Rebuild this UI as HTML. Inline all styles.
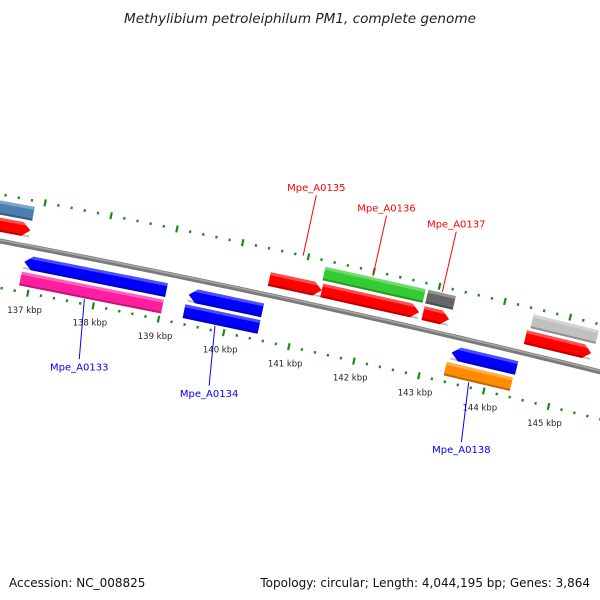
<!DOCTYPE html>
<html><head><meta charset="utf-8"><style>
body{margin:0;background:#fff}
svg{display:block;font-family:"DejaVu Sans","Liberation Sans",sans-serif}
</style></head><body>
<svg id="map" width="600" height="600" viewBox="0 0 600 600" xmlns="http://www.w3.org/2000/svg">
<rect width="600" height="600" fill="#fff"/>
<text x="300" y="23" text-anchor="middle" font-size="13.6" font-style="italic" fill="#222">Methylibium petroleiphilum PM1, complete genome</text>
<g id="ticks"></g>
<g id="backbone"></g>
<g id="features"></g>
<g id="labels"></g>
<text x="9" y="587" font-size="12" fill="#111">Accession: NC_008825</text>
<text x="590" y="587" text-anchor="end" font-size="12" fill="#111">Topology: circular; Length: 4,044,195 bp; Genes: 3,864</text>
</svg>
<script>
// data (kbp)
const featStart = [136.0, 136.2, 136.86, 136.85, 139.37, 139.35, 140.50, 141.28, 141.30, 142.85, 142.85, 143.40, 143.36, 144.46, 144.42];
const featEnd   = [136.86, 136.86, 139.03, 139.02, 140.50, 140.50, 141.30, 142.81, 142.79, 143.27, 143.25, 144.40, 144.38, 145.46, 145.43];
const featRow   = [2, 1, -1, -2, -1, -2, 1, 2, 1, 2, 1, -1, -2, 2, 1];
const featColor = ["#4a7fb0","#ff0000","#0000ff","#ff1ea0","#0000ff","#0000ff","#ff0000","#33cc33","#ff0000","#666666","#ff0000","#0000ff","#ff8c00","#c0c0c0","#ff0000"];
const featArrow = [0,1,1,0,1,0,1,0,1,0,1,1,0,0,1];
const tickLabels = ["137 kbp","138 kbp","139 kbp","140 kbp","141 kbp","142 kbp","143 kbp","144 kbp","145 kbp"];
const tickKbp = [137,138,139,140,141,142,143,144,145];
const labelNames = ["Mpe_A0133","Mpe_A0134","Mpe_A0135","Mpe_A0136","Mpe_A0137","Mpe_A0138"];
const labelKbp = [137.85, 139.85, 140.92, 142.0, 143.06, 143.75];
const labelRow = [-2,-2,1,2,2,-2];

const NS="http://www.w3.org/2000/svg";
const R=11000, k0=137, P0=[36.5,248], phi0=0.19, pxPerK=66.9;
function pos(k,r){const phi=phi0+(k-k0)*pxPerK/R;
  return [P0[0]+R*(Math.sin(phi)-Math.sin(phi0))+r*Math.sin(phi),
          P0[1]-R*(Math.cos(phi)-Math.cos(phi0))-r*Math.cos(phi)];}
function el(t,a,parent){const e=document.createElementNS(NS,t);for(const k in a)e.setAttribute(k,a[k]);parent.appendChild(e);return e;}
function pts(arr){return arr.map(p=>p[0].toFixed(1)+","+p[1].toFixed(1)).join(" ");}
const rowR={1:16,2:33,"-1":-16,"-2":-33};
// ticks
const tg=document.getElementById('ticks');
for(let i=0;i<=50;i++){const k=136+i*0.2;
  [46,-46].forEach(r=>{const major=Math.abs(k-Math.round(k))<1e-6;
    const a=pos(k,r+(major?3.5:1.3)),b=pos(k,r-(major?3.5:1.3));
    const t=el('line',{x1:a[0],y1:a[1],x2:b[0],y2:b[1],stroke:'#1a8a1a','stroke-width':2.2},tg);
    
    });}
tickKbp.forEach((k,i)=>{const p=pos(k,-63);
  const t=el('text',{x:p[0],y:p[1]+3,'text-anchor':'middle','font-size':8.5,fill:'#222'},tg);
  t.textContent=tickLabels[i];
  
  });
// backbone
const bg=document.getElementById('backbone');
const bb=[];for(let k=135.5;k<=146.5;k+=0.25)bb.push(pos(k,0));
const b1=el('polyline',{points:pts(bb),fill:'none',stroke:'#7a7a7a','stroke-width':5},bg);


const bb2=[];for(let k=135.5;k<=146.5;k+=0.25)bb2.push(pos(k,1));
const b2=el('polyline',{points:pts(bb2),fill:'none',stroke:'#a8a8a8','stroke-width':1.5},bg);


// features
const fg=document.getElementById('features');
function shape(s,e,ro,ri,arrow,dir){const ah=8/pxPerK;
  if(!arrow)return [pos(s,ro),pos(e,ro),pos(e,ri),pos(s,ri)];
  const m=(ro+ri)/2;
  if(dir>0){const b=Math.max(s,e-ah);return [pos(s,ro),pos(b,ro),pos(e,m),pos(b,ri),pos(s,ri)];}
  const b=Math.min(e,s+ah);return [pos(s,m),pos(b,ro),pos(e,ro),pos(e,ri),pos(b,ri)];}
featStart.forEach((s,i)=>{const e=featEnd[i],r=rowR[featRow[i]],h=7,dir=featRow[i]>0?1:-1;
  const g=el('g',{},fg);
  
  
  el('polygon',{points:pts(shape(s,e,r+h,r-h,featArrow[i],dir)),fill:featColor[i]},g);
  el('polygon',{points:pts(shape(s,e,r+h,r+h-3,0,dir)),fill:'#fff','fill-opacity':0.3},g);
  el('polygon',{points:pts(shape(s,e,r-h+2,r-h,0,dir)),fill:'#000','fill-opacity':0.25},g);});
// labels
const lg=document.getElementById('labels');
labelNames.forEach((n,i)=>{const r=rowR[labelRow[i]];const out=r>0;
  const a=pos(labelKbp[i],out?r+(r>20?8:30):r-8);
  const b=out?pos(labelKbp[i],r+(r>20?70:92)):pos(labelKbp[i]+0.1,r-68);
  const col=out?'#ff0000':'#0000ff';
  const l=el('line',{x1:a[0],y1:a[1],x2:b[0],y2:b[1],stroke:col,'stroke-width':1},lg);
  
  
  const t=el('text',{x:b[0],y:out?b[1]-4:b[1]+11,'text-anchor':'middle','font-size':10,fill:col},lg);
  t.textContent=n;
  
  });
</script>
</body></html>
